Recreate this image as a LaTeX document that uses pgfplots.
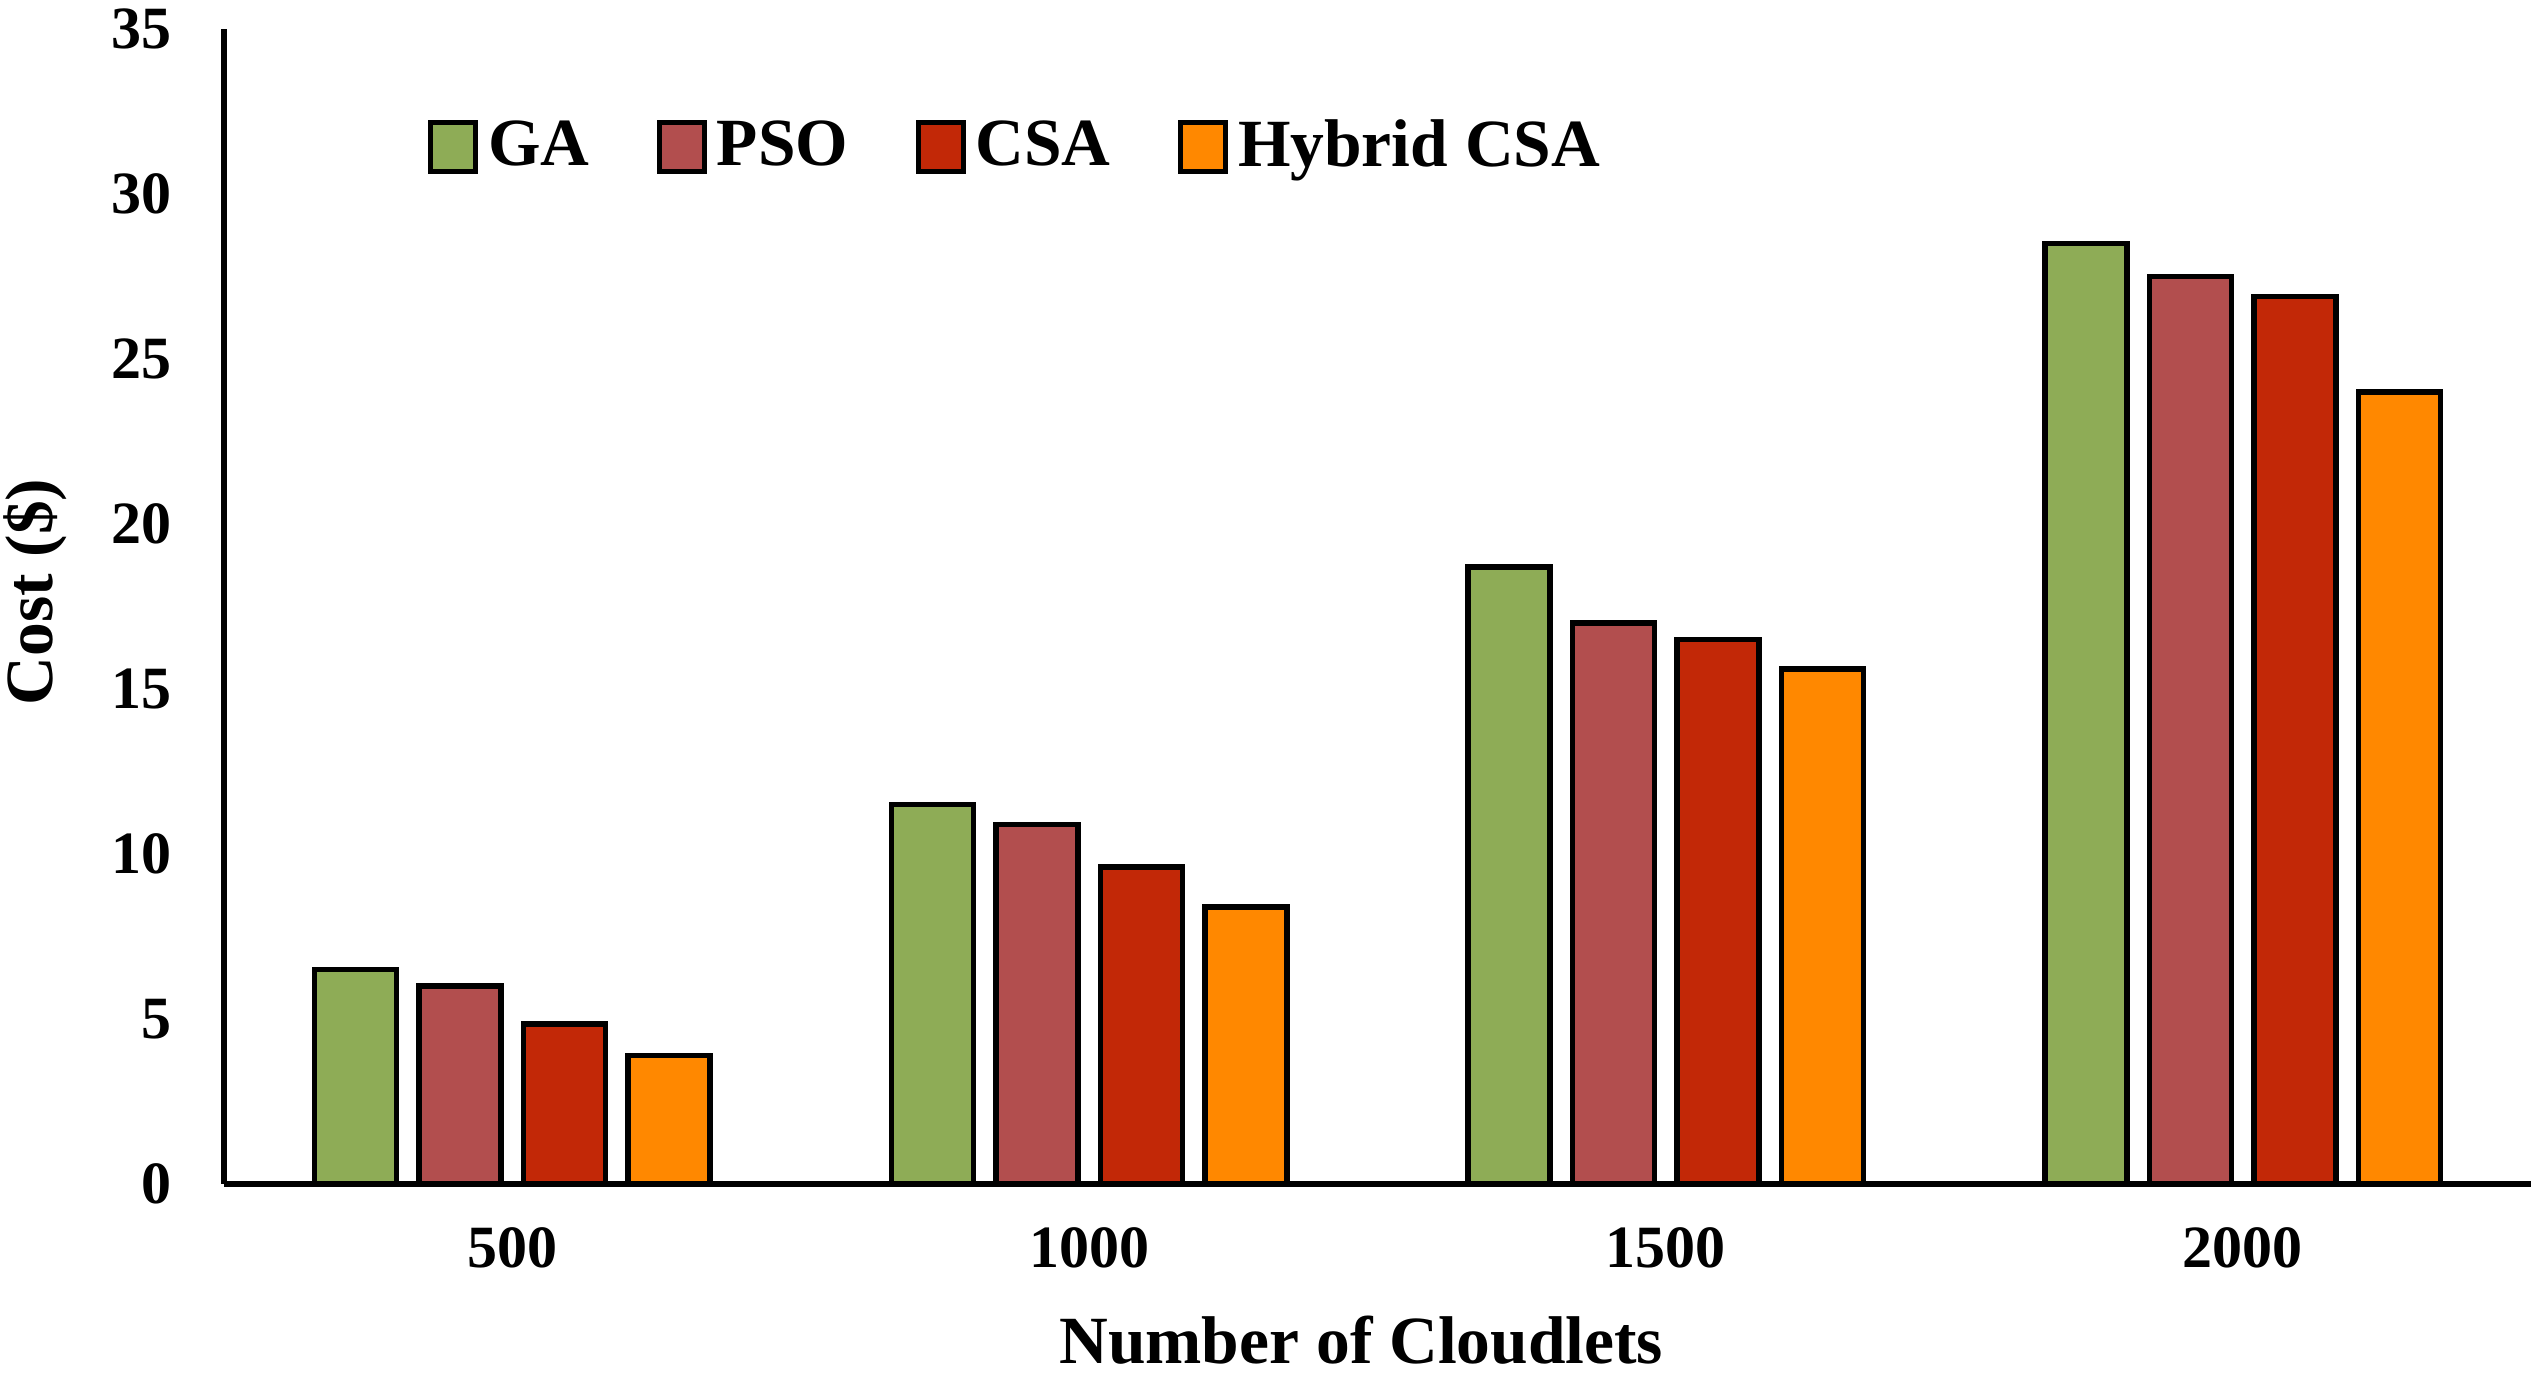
\documentclass[border=0pt]{standalone}
\usepackage{fontspec}
\setmainfont{Liberation Serif}
\usepackage{pgfplots}
\pgfplotsset{compat=1.18}

\definecolor{gaGreen}{HTML}{8EAC56}
\definecolor{psoRed}{HTML}{B24E4E}
\definecolor{csaRed}{HTML}{C22807}
\definecolor{hybOrange}{HTML}{FF8800}

\pgfplotsset{
  costbar/.style={fill=#1, draw=black, line width=1.1pt,
    legend image code/.code={\draw[##1, line width=1pt] (0pt,-4.9pt) rectangle (9pt,4.9pt);}},
}

\begin{document}
\begin{tikzpicture}
\begin{axis}[
  name=ax,
  scale only axis,
  width=461.4pt, height=231pt,
  ybar=4.5pt, bar width=16.4pt,
  xmin=-0.5, xmax=3.5, ymin=0, ymax=35,
  enlargelimits=false,
  axis x line=bottom, axis y line=left,
  axis line style={line width=1.3pt, -},
  major tick length=0pt,
  xtick={0,1,2,3}, xticklabels={500,1000,1500,2000},
  ytick={0,5,...,35},
  /pgf/number format/assume math mode=true,
  ticklabel style={font=\bfseries\fontsize{12}{14}\selectfont},
  yticklabel style={inner sep=0pt, xshift=-10.2pt},
  xticklabel style={anchor=center, inner sep=0pt, yshift=-12.8pt},
  xlabel={Number of Cloudlets},
  ylabel={Cost (\$)},
  label style={font=\bfseries\fontsize{13.5}{16}\selectfont},
  xlabel style={at={(axis description cs:0.493,-0.135)}, anchor=center},
  ylabel style={at={(axis description cs:-0.0817,0.5126)}, anchor=center},
  legend columns=4,
  legend style={at={(axis description cs:0.088,0.898)}, anchor=west,
    draw=none, fill=none, inner sep=0pt,
    font=\bfseries\fontsize{13.5}{16}\selectfont,
    /tikz/every even column/.append style={column sep=11.5pt}},
]
\addplot[costbar=gaGreen] coordinates {(0,6.5) (1,11.5) (2,18.7) (3,28.5)};
\addplot[costbar=psoRed] coordinates {(0,6.0) (1,10.9) (2,17.0) (3,27.5)};
\addplot[costbar=csaRed] coordinates {(0,4.85) (1,9.6) (2,16.5) (3,26.9)};
\addplot[costbar=hybOrange] coordinates {(0,3.9) (1,8.4) (2,15.6) (3,24.0)};
\legend{GA, PSO, CSA, Hybrid CSA}
\end{axis}
\pgfresetboundingbox
\path[use as bounding box] ([xshift=-44.8pt, yshift=-39.2pt]ax.south west) rectangle ([yshift=5.8pt]ax.north east);
\end{tikzpicture}
\end{document}
